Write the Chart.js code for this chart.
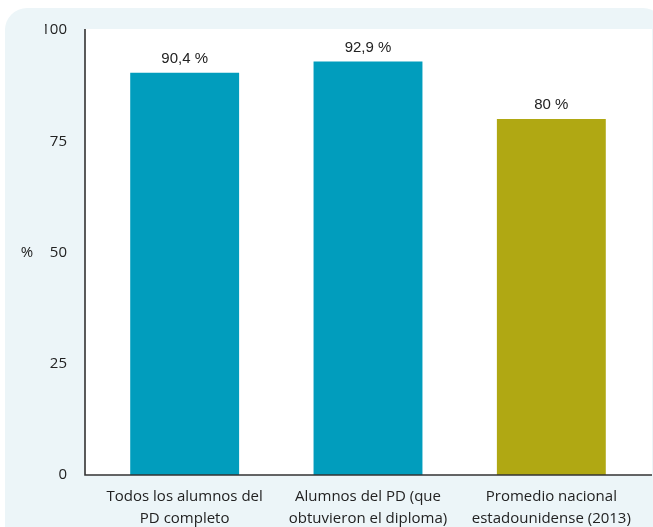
<!DOCTYPE html>
<html>
<head>
<meta charset="utf-8">
<script src="https://cdn.jsdelivr.net/npm/chart.js@4/dist/chart.umd.min.js"></script>
<style>
  html, body { margin: 0; padding: 0; background: #ffffff; overflow: hidden; }
  #panel { position: absolute; left: 5px; top: 8px; width: 660px; height: 540px;
           background: #ecf5f8; border-radius: 22px 22px 0 0; }
  #wrap { position: absolute; left: 0; top: 0; width: 653px; height: 532px; }
</style>
</head>
<body>
<div id="panel"></div>
<div id="wrap"><canvas id="c"></canvas></div>
<script>
const categories = [
  ["Todos los alumnos del", "PD completo"],
  ["Alumnos del PD (que", "obtuvieron el diploma)"],
  ["Promedio nacional", "estadounidense (2013)"]
];
const values = [90.4, 92.9, 80];
const valueLabels = ["90,4 %", "92,9 %", "80 %"];
const barColors = ["#019dbd", "#019dbd", "#b0a813"];
const yTicks = [0, 25, 50, 75, 100];
const yTitle = "%";

const plotBg = {
  id: 'plotBg',
  beforeDraw(chart) {
    const { ctx, chartArea: a } = chart;
    ctx.save();
    ctx.fillStyle = '#ffffff';
    ctx.fillRect(a.left - 8, a.top - 1, (a.right + 9) - (a.left - 8), a.bottom - a.top + 1);
    ctx.restore();
  },
  afterDatasetsDraw(chart) {
    const { ctx, chartArea: a } = chart;
    ctx.save();
    ctx.strokeStyle = '#333333';
    ctx.lineWidth = 1.6;
    ctx.beginPath();
    ctx.moveTo(a.left - 8, a.top - 1);
    ctx.lineTo(a.left - 8, a.bottom);
    ctx.lineTo(a.right + 9, a.bottom);
    ctx.stroke();
    // value labels
    const meta = chart.getDatasetMeta(0);
    ctx.fillStyle = '#222222';
    ctx.font = '15px "Liberation Sans", Arial, sans-serif';
    ctx.textAlign = 'center';
    ctx.textBaseline = 'middle';
    meta.data.forEach((bar, i) => {
      ctx.fillText(valueLabels[i], bar.x, bar.y - 14);
    });
    // y title
    const ys = chart.scales.y;
    ctx.font = '15px "Open Sans", sans-serif';
    ctx.fillText(yTitle, a.left - 66, ys.getPixelForValue(50));
    ctx.restore();
  }
};

new Chart(document.getElementById('c'), {
  type: 'bar',
  data: {
    labels: categories,
    datasets: [{
      data: values,
      backgroundColor: barColors,
      borderWidth: 0,
      categoryPercentage: 1,
      barPercentage: 0.594
    }]
  },
  options: {
    responsive: true,
    maintainAspectRatio: false,
    animation: false,
    layout: { padding: { top: 30, right: 10, bottom: 2, left: 45 } },
    plugins: { legend: { display: false }, tooltip: { enabled: false } },
    scales: {
      x: {
        afterFit(scale) { scale.height = 55; },
        grid: { display: false, drawTicks: false },
        border: { display: false },
        ticks: {
          color: '#222222',
          padding: 11,
          maxRotation: 0,
          autoSkip: false,
          font: { family: '"Open Sans", sans-serif', size: 15, lineHeight: 22 / 15 }
        }
      },
      y: {
        min: 0, max: 100,
        afterFit(scale) { scale.width = 48; scale.paddingTop = 0; scale.paddingBottom = 0; },
        afterBuildTicks(scale) { scale.ticks = yTicks.map(v => ({ value: v })); },
        grid: { display: false, drawTicks: false },
        border: { display: false },
        ticks: {
          color: '#222222',
          padding: 26,
          font: { family: '"Open Sans", sans-serif', size: 15 }
        }
      }
    }
  },
  plugins: [plotBg]
});
</script>
</body>
</html>
